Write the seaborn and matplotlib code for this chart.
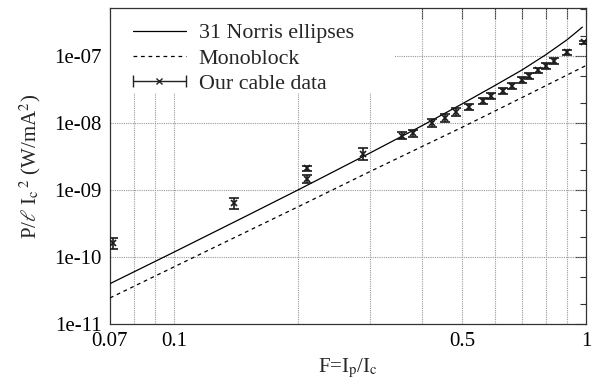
import matplotlib
matplotlib.use('Agg')
import numpy as np
import pandas as pd
import matplotlib.pyplot as plt
import seaborn as sns
from matplotlib.ticker import FixedLocator, FixedFormatter, FuncFormatter, LogLocator, NullLocator
from matplotlib.container import ErrorbarContainer
from matplotlib.legend_handler import HandlerErrorbar
from matplotlib.patches import Rectangle

# 曲线：31 Norris ellipses
norris_F = [0.07, 0.1, 0.15, 0.2, 0.3, 0.4, 0.5, 0.6, 0.7, 0.8, 0.9, 0.95, 0.98]
norris_P = [4.0e-11, 1.18e-10, 4.1e-10, 1.0e-9, 3.6e-9, 9.1e-9, 1.92e-8, 3.6e-8,
            6.2e-8, 1.05e-7, 1.75e-7, 2.3e-7, 2.7e-7]

# 曲线：Monoblock
mono_F = [0.07, 0.1, 0.2, 0.3, 0.5, 0.7, 1.0]
mono_P = [2.45e-11, 7.1e-11, 5.6e-10, 1.9e-9, 8.6e-9, 2.4e-8, 7.2e-8]

# 测量数据
cable_F = [0.0712, 0.140, 0.210, 0.210, 0.288, 0.3575, 0.380, 0.423, 0.4545, 0.483,
           0.520, 0.562, 0.588, 0.629, 0.661, 0.700, 0.7275, 0.765, 0.800, 0.836,
           0.898, 0.9875]
cable_P = [1.62e-10, 6.45e-10, 2.1e-9, 1.45e-9, 3.5e-9, 6.5e-9, 7.0e-9, 1.0e-8, 1.19e-8,
           1.45e-8, 1.72e-8, 2.13e-8, 2.55e-8, 3.0e-8, 3.55e-8, 4.4e-8, 5.0e-8, 6.1e-8,
           7.1e-8, 8.4e-8, 1.14e-7, 1.6e-7]
cable_err = [0.3e-10, 1.2e-10, 0.2e-9, 0.2e-9, 0.7e-9, 0.8e-9, 0.8e-9, 1.3e-9, 1.5e-9,
             2.0e-9, 1.8e-9, 2.2e-9, 2.5e-9, 3.0e-9, 3.5e-9, 4.0e-9, 5.0e-9, 6.0e-9,
             7.0e-9, 8.0e-9, 1.0e-8, 1.0e-8]

x_ticks = [0.07, 0.08, 0.09, 0.1, 0.2, 0.3, 0.4, 0.5, 0.6, 0.7, 0.8, 0.9, 1.0]
x_ticklabels = ['0.07', '', '', '0.1', '', '', '', '0.5', '', '', '', '', '1']
y_ticks = [1e-11, 1e-10, 1e-9, 1e-8, 1e-7]

sns.set_theme(style='white')
plt.rcParams['font.family'] = ['Liberation Serif', 'DejaVu Serif']
plt.rcParams['mathtext.fontset'] = 'stix'
plt.rcParams['font.size'] = 15

fig = plt.figure(figsize=(5.97, 3.80), dpi=100)
ax = fig.add_axes([110 / 597, 56 / 380, 476 / 597, 316 / 380])
ax.set_xscale('log')
ax.set_yscale('log')
ax.set_xlim(0.07, 1.0)
ax.set_ylim(1e-11, 5.2e-7)

# 网格（手动画，方便被图例底色遮住）
grid_kw = dict(color='#999999', linestyle=(0, (1, 1)), linewidth=0.8, zorder=0.6)
for xv in x_ticks[1:-1]:
    ax.axvline(xv, **grid_kw)
for yv in y_ticks[1:]:
    ax.axhline(yv, **grid_kw)
ax.add_patch(Rectangle((0, (324 - 93) / 316), (395 - 110) / 476, 1.0,
                       transform=ax.transAxes, facecolor='white', edgecolor='none',
                       zorder=0.8))

norris_df = pd.DataFrame({'F': norris_F, 'P': norris_P})
mono_df = pd.DataFrame({'F': mono_F, 'P': mono_P})

sns.lineplot(data=norris_df, x='F', y='P', ax=ax, color='black', lw=0.9,
             sort=False, estimator=None, zorder=3)
sns.lineplot(data=mono_df, x='F', y='P', ax=ax, color='black', lw=0.9,
             linestyle=(0, (3, 3)), sort=False, estimator=None, zorder=3)

ax.errorbar(cable_F, cable_P, yerr=cable_err, fmt='x', color='#1a1a1a', ms=5,
            mew=1.2, elinewidth=1.2, capsize=3.5, capthick=1.6, zorder=4)

ax.xaxis.set_major_locator(FixedLocator(x_ticks))
ax.xaxis.set_major_formatter(FixedFormatter(x_ticklabels))
ax.xaxis.set_minor_locator(NullLocator())
ax.yaxis.set_major_locator(FixedLocator(y_ticks))
ax.yaxis.set_major_formatter(FuncFormatter(lambda v, _: f'{v:.0e}'))
ax.yaxis.set_minor_locator(LogLocator(base=10, subs=(2, 5), numticks=20))

ax.tick_params(which='both', direction='in', top=True, right=True, colors='#333333',
               labelcolor='black', labelsize=15)
ax.tick_params(which='major', length=8, width=0.8, pad=6)
ax.tick_params(which='minor', length=4, width=0.8)
ax.grid(False)
for s in ax.spines.values():
    s.set_color('#333333')
    s.set_linewidth(0.9)

ax.set_xlabel(r'F=I$_{\rm p}$/I$_{\rm c}$', fontsize=15, labelpad=4)
ax.set_ylabel(r'P/$\ell$ I$_{\rm c}$$^{\,2}$ (W/mA$^{2}$)', fontsize=15)
ax.yaxis.set_label_coords(-0.14, 0.5)

# 图例
h_norris = plt.Line2D([], [], color='black', lw=0.9)
h_mono = plt.Line2D([], [], color='black', lw=0.9, linestyle=(0, (3, 3)))
h_data = ax.errorbar([10.0], [1e-7], xerr=[0.1], fmt='x', color='#222222', ms=5,
                     mew=1.0, elinewidth=1.0, capsize=4, capthick=1.0)
leg = ax.legend([h_norris, h_mono, h_data],
                ['31 Norris ellipses', 'Monoblock', 'Our cable data'],
                loc='upper left', bbox_to_anchor=((133 - 110) / 476, (324 - 23) / 316),
                borderaxespad=0.0, borderpad=0.0, frameon=False,
                handlelength=2.4, handletextpad=0.6, labelspacing=0.22,
                numpoints=1, fontsize=15.8,
                handler_map={ErrorbarContainer: HandlerErrorbar(xerr_size=1.2)})
leg.set_zorder(5)

ax.set_ylim(1e-11, 5.2e-7)
ax.set_xlim(0.07, 1.0)

fig.savefig('out.png', dpi=100)
